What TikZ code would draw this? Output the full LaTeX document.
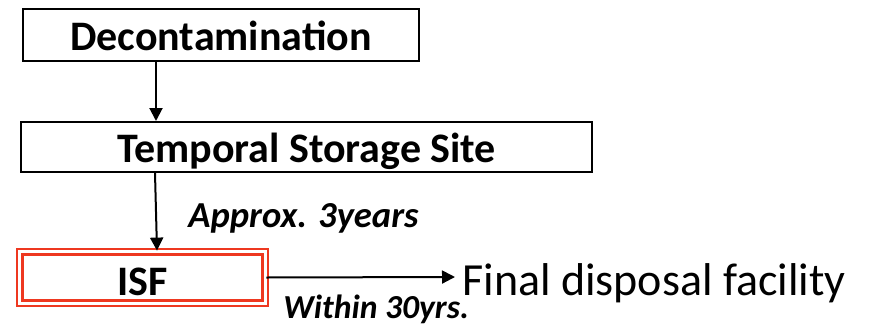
\documentclass[tikz,border=0pt]{standalone}
\usepackage{fontspec}
\setmainfont{Carlito}
\usetikzlibrary{arrows.meta}
\definecolor{isfred}{RGB}{238,56,32}

\begin{document}
\begin{tikzpicture}[x=0.5pt,y=0.5pt,
        box/.style={draw,line width=1pt,inner sep=0pt,text height=15.5pt,text depth=0pt,font=\fontsize{21}{25}\selectfont\bfseries},
        flow/.style={-{Triangle[length=6.5pt,width=6.5pt]},line width=1pt},
        note/.style={anchor=base west,inner sep=0pt,font=\fontsize{18.3}{22}\selectfont\bfseries\itshape}]
        \useasboundingbox (0,0) rectangle (871,333);

        \node[box,minimum width=198pt,minimum height=26pt] (decon) at (221,298) {Decontamination};
        \node[box,minimum width=285.5pt,minimum height=25pt] (storage) at (306.5,186) {Temporal Storage Site};
        \node[box,draw=isfred,line width=1.2pt,double,double distance=1.4pt,text height=18pt,
              minimum width=122.7pt,minimum height=25.7pt] (isf) at (142.5,55.5) {ISF};
        \node[anchor=base west,inner sep=0pt,font=\fontsize{23}{27}\selectfont] (final) at (462,38) {Final disposal facility};

        \node[note] (approx) at (188,106) {Approx. 3years};
        \node[note,font=\fontsize{16.8}{20}\selectfont\bfseries\itshape] (within) at (283,15) {Within 30yrs.};

        \coordinate (k1) at (156,0);
        \coordinate (k2) at (155,0);
        \coordinate (k3) at (157,0);
        \coordinate (k4) at (455,56);

        \draw[flow] (decon.south -| k1) -- (storage.north -| k1);
        \draw[flow] (storage.south -| k2) -- (isf.north -| k3);
        \draw[flow] (isf.east) -- (k4);
    \end{tikzpicture}
\end{document}
